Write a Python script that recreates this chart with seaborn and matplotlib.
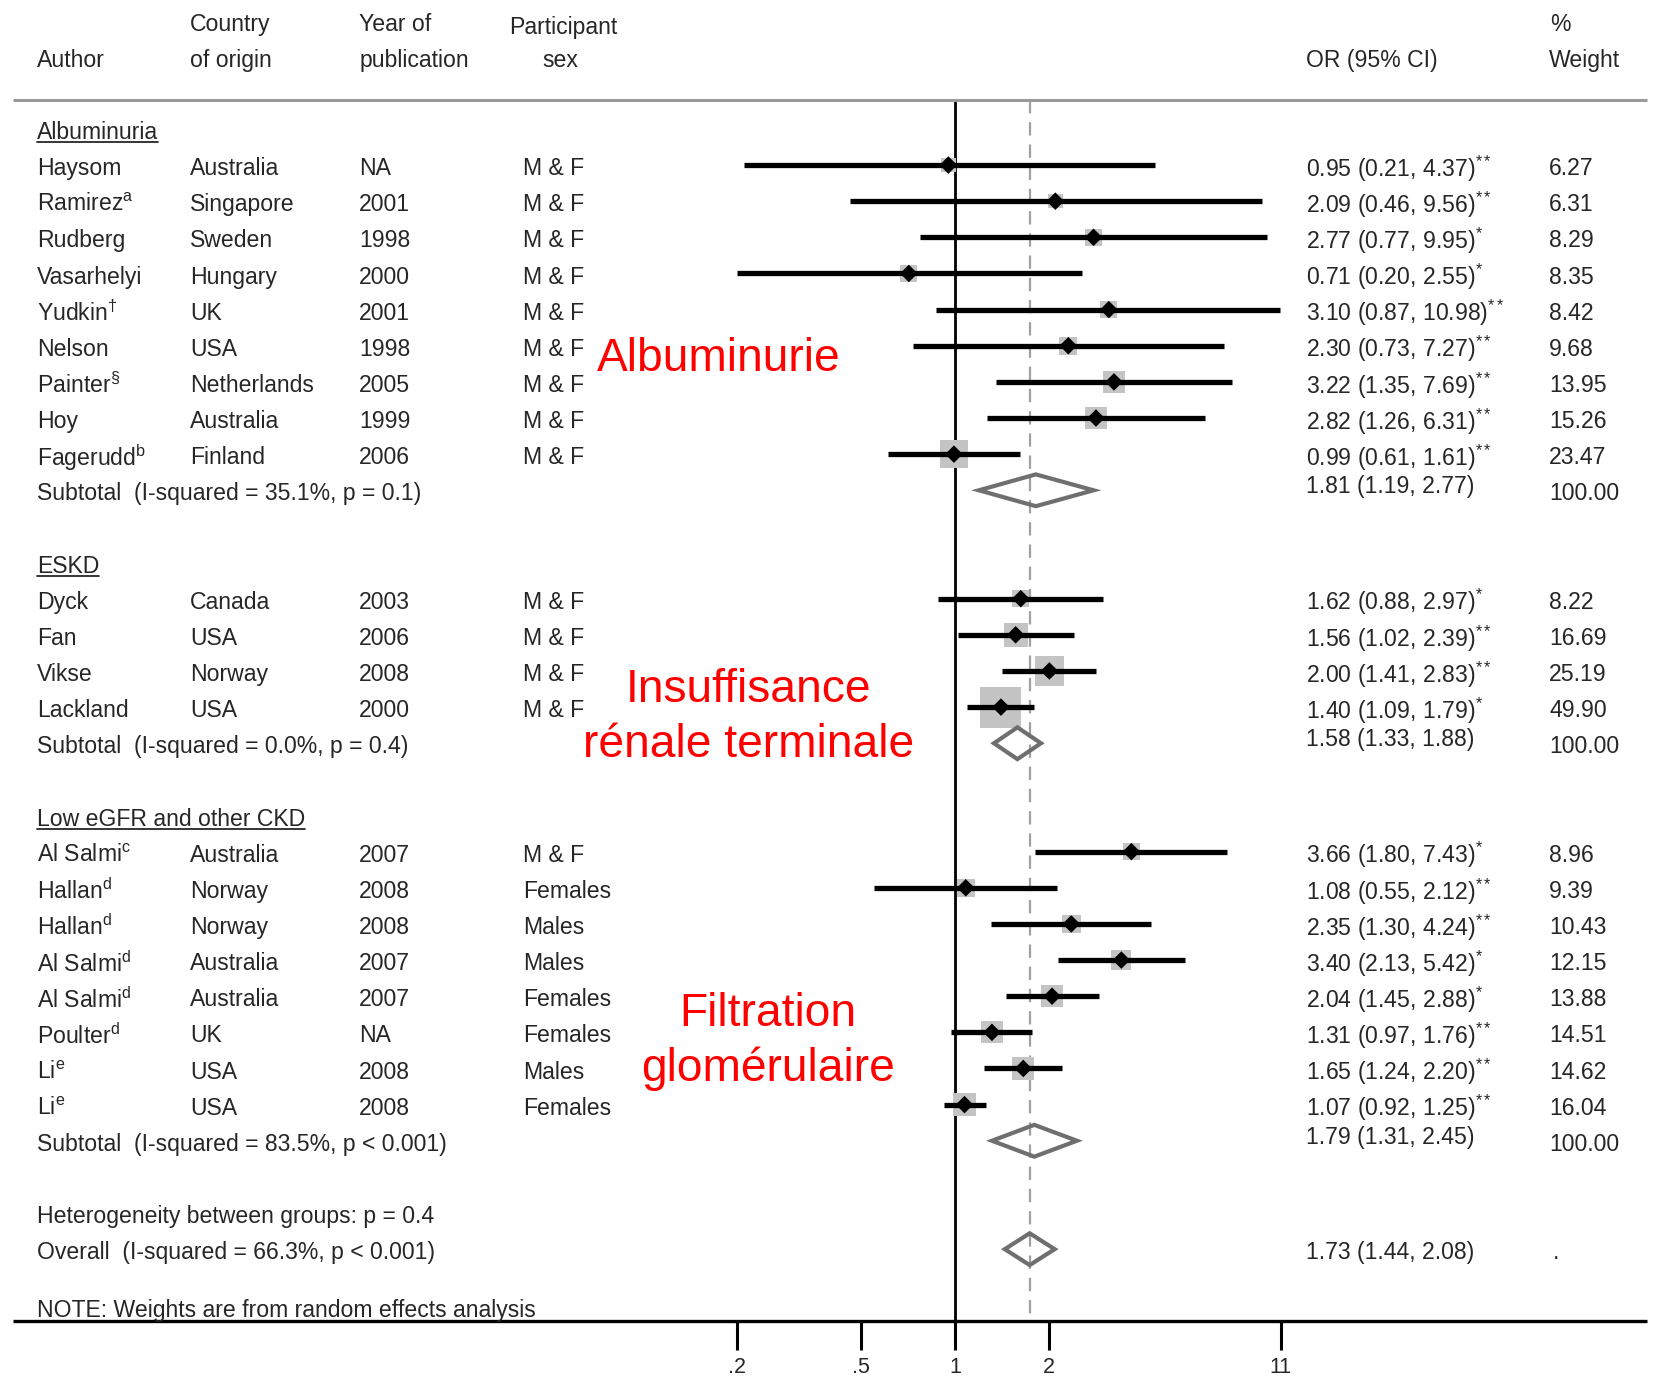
import numpy as np
import pandas as pd
import matplotlib
matplotlib.use("Agg")
import matplotlib.pyplot as plt
import matplotlib.transforms as mtransforms
import seaborn as sns

# ── Data ─────────────────────────────────────────────────────────────
alb_author  = ["Haysom", "Ramirez", "Rudberg", "Vasarhelyi", "Yudkin", "Nelson", "Painter", "Hoy", "Fagerudd"]
alb_sup     = ["", "a", "", "", r"\dagger", "", r"\S", "", "b"]
alb_country = ["Australia", "Singapore", "Sweden", "Hungary", "UK", "USA", "Netherlands", "Australia", "Finland"]
alb_year    = ["NA", "2001", "1998", "2000", "2001", "1998", "2005", "1999", "2006"]
alb_sex     = ["M & F"] * 9
alb_or      = [0.95, 2.09, 2.77, 0.71, 3.10, 2.30, 3.22, 2.82, 0.99]
alb_lo      = [0.21, 0.46, 0.77, 0.20, 0.87, 0.73, 1.35, 1.26, 0.61]
alb_hi      = [4.37, 9.56, 9.95, 2.55, 10.98, 7.27, 7.69, 6.31, 1.61]
alb_star    = ["**", "**", "*", "*", "**", "**", "**", "**", "**"]
alb_weight  = [6.27, 6.31, 8.29, 8.35, 8.42, 9.68, 13.95, 15.26, 23.47]

eskd_author  = ["Dyck", "Fan", "Vikse", "Lackland"]
eskd_sup     = ["", "", "", ""]
eskd_country = ["Canada", "USA", "Norway", "USA"]
eskd_year    = ["2003", "2006", "2008", "2000"]
eskd_sex     = ["M & F"] * 4
eskd_or      = [1.62, 1.56, 2.00, 1.40]
eskd_lo      = [0.88, 1.02, 1.41, 1.09]
eskd_hi      = [2.97, 2.39, 2.83, 1.79]
eskd_star    = ["*", "**", "**", "*"]
eskd_weight  = [8.22, 16.69, 25.19, 49.90]

gfr_author  = ["Al Salmi", "Hallan", "Hallan", "Al Salmi", "Al Salmi", "Poulter", "Li", "Li"]
gfr_sup     = ["c", "d", "d", "d", "d", "d", "e", "e"]
gfr_country = ["Australia", "Norway", "Norway", "Australia", "Australia", "UK", "USA", "USA"]
gfr_year    = ["2007", "2008", "2008", "2007", "2007", "NA", "2008", "2008"]
gfr_sex     = ["M & F", "Females", "Males", "Males", "Females", "Females", "Males", "Females"]
gfr_or      = [3.66, 1.08, 2.35, 3.40, 2.04, 1.31, 1.65, 1.07]
gfr_lo      = [1.80, 0.55, 1.30, 2.13, 1.45, 0.97, 1.24, 0.92]
gfr_hi      = [7.43, 2.12, 4.24, 5.42, 2.88, 1.76, 2.20, 1.25]
gfr_star    = ["*", "**", "**", "*", "*", "**", "**", "**"]
gfr_weight  = [8.96, 9.39, 10.43, 12.15, 13.88, 14.51, 14.62, 16.04]

group_names = ["Albuminuria", "ESKD", "Low eGFR and other CKD"]
sub_or      = [1.81, 1.58, 1.79]
sub_lo      = [1.19, 1.33, 1.31]
sub_hi      = [2.77, 1.88, 2.45]
sub_label   = ["Subtotal  (I-squared = 35.1%, p = 0.1)",
               "Subtotal  (I-squared = 0.0%, p = 0.4)",
               "Subtotal  (I-squared = 83.5%, p < 0.001)"]
red_labels  = ["Albuminurie", "Insuffisance\nrénale terminale", "Filtration\nglomérulaire"]

overall_or, overall_lo, overall_hi = 1.73, 1.44, 2.08
overall_label = "Overall  (I-squared = 66.3%, p < 0.001)"
het_label = "Heterogeneity between groups: p = 0.4"
note_label = "NOTE: Weights are from random effects analysis"

xticks = [0.2, 0.5, 1, 2, 11]
xtick_labels = [".2", ".5", "1", "2", "11"]

# ── Build table with row positions ───────────────────────────────────
blocks = [
    (alb_author, alb_sup, alb_country, alb_year, alb_sex, alb_or, alb_lo, alb_hi, alb_star, alb_weight),
    (eskd_author, eskd_sup, eskd_country, eskd_year, eskd_sex, eskd_or, eskd_lo, eskd_hi, eskd_star, eskd_weight),
    (gfr_author, gfr_sup, gfr_country, gfr_year, gfr_sex, gfr_or, gfr_lo, gfr_hi, gfr_star, gfr_weight),
]
records, header_rows, sub_rows = [], [], []
r = 0
for g, b in zip(group_names, blocks):
    header_rows.append(r)
    for i in range(len(b[0])):
        r += 1
        records.append(dict(group=g, author=b[0][i], sup=b[1][i], country=b[2][i],
                            year=b[3][i], sex=b[4][i], est=b[5][i], lo=b[6][i],
                            hi=b[7][i], star=b[8][i], weight=b[9][i], row=r))
    r += 1
    sub_rows.append(r)
    r += 2
df = pd.DataFrame(records)
het_row = r
overall_row = het_row + 1
note_row = overall_row + 1.6
axis_row = overall_row + 2

# ── Figure ───────────────────────────────────────────────────────────
sns.set_theme(style="white")
plt.rcParams["font.family"] = ["Liberation Sans", "DejaVu Sans"]
plt.rcParams["mathtext.fontset"] = "custom"
plt.rcParams["mathtext.rm"] = "Liberation Sans"
plt.rcParams["mathtext.it"] = "Liberation Sans:italic"

fig = plt.figure(figsize=(16.57, 13.80), dpi=100)
ax = fig.add_axes([0, 0, 1, 1])
ax.set_xscale("log")
ax.set_xlim(np.exp(-7.04), np.exp(5.171))
ax.set_ylim(34.62, -3.567)
ax.axis("off")

tc = "#262626"
fs = 16.6
dy = 0.1  # text sits slightly below the row centre
tr = mtransforms.blended_transform_factory(ax.transAxes, ax.transData)

col_author, col_country, col_year, col_sex, col_or, col_w = 0.0223, 0.1148, 0.2168, 0.3157, 0.7883, 0.935


def txt(x, y, s, **kw):
    kw.setdefault("transform", tr)
    kw.setdefault("fontsize", fs)
    return ax.text(x, y + dy, s, color=tc, va="center", **kw)


# header
txt(col_author, -2, "Author")
txt(col_country, -3, "Country")
txt(col_country, -2, "of origin")
txt(col_year, -3, "Year of")
txt(col_year, -2, "publication")
txt(0.3074, -2.9, "Participant")
txt(0.338, -2, "sex", ha="center")
txt(col_or, -2, "OR (95% CI)")
txt(0.9352, -3, "%")
txt(col_w, -2, "Weight")
ax.plot([0.008, 0.994], [-0.79, -0.79], transform=tr, color="#9a9a9a", lw=2.2, solid_capstyle="butt")

# reference lines
ax.plot([1, 1], [-0.79, axis_row], color="black", lw=2.0, zorder=1)
ax.plot([overall_or, overall_or], [-0.79, axis_row], color="#a0a0a0", lw=1.6,
        dashes=(6, 4), zorder=1)

# weight boxes and points
sns.scatterplot(data=df, x="est", y="row", size="weight", sizes=(17.5 * df.weight.min(), 17.5 * df.weight.max()),
                size_norm=(df.weight.min(), df.weight.max()), marker="s", color="#c4c4c4",
                edgecolor="none", legend=False, ax=ax, zorder=2)
ax.hlines(df["row"], df["lo"], df["hi"], color="black", lw=3.8, zorder=3)
sns.scatterplot(data=df, x="est", y="row", marker="D", s=80, color="black",
                edgecolor="none", legend=False, ax=ax, zorder=4)

# study text
for _, d in df.iterrows():
    if d.sup.startswith("\\"):
        name = d.author + r"$^{%s}$" % d.sup
    elif d.sup:
        name = d.author + r"$^{\mathrm{%s}}$" % d.sup
    else:
        name = d.author
    txt(col_author, d.row, name)
    txt(col_country, d.row, d.country)
    txt(col_year, d.row, d.year)
    txt(col_sex, d.row, d.sex)
    txt(col_or, d.row, f"{d.est:.2f} ({d.lo:.2f}, {d.hi:.2f})" + r"$^{%s}$" % d.star)
    txt(col_w, d.row, f"{d.weight:.2f}")

# group headers (underlined), subtotals
headers = [txt(col_author, hr, g) for hr, g in zip(header_rows, group_names)]


def diamond(est, lo, hi, row, h=0.44):
    ax.fill([lo, est, hi, est, lo], [row, row - h, row, row + h, row],
            facecolor="none", edgecolor="#6f6f6f", lw=3, zorder=3, joinstyle="miter")


for sr, lab, e, lo, hi in zip(sub_rows, sub_label, sub_or, sub_lo, sub_hi):
    txt(col_author, sr, lab)
    txt(col_or, sr - 0.2, f"{e:.2f} ({lo:.2f}, {hi:.2f})")
    txt(col_w, sr, "100.00")
    diamond(e, lo, hi, sr)

txt(col_author, het_row, het_label)
txt(col_author, overall_row, overall_label)
txt(col_or, overall_row, f"{overall_or:.2f} ({overall_lo:.2f}, {overall_hi:.2f})")
txt(0.937, overall_row, ".")
diamond(overall_or, overall_lo, overall_hi, overall_row)
txt(col_author, note_row, note_label)

# bottom axis
ax.plot([0.008, 0.994], [axis_row, axis_row], transform=tr, color="black", lw=2.4, solid_capstyle="butt")
ax.vlines(xticks, axis_row, axis_row + 0.78, color="black", lw=2.2)
for t, lab in zip(xticks, xtick_labels):
    txt(t, axis_row + 1.18, lab, ha="center", transform=ax.transData, fontsize=15.5)

# red annotations
red_pos = [(0.434, 6.37), (0.4515, 16.29), (0.4636, 25.25)]
for (xf, yr), lab in zip(red_pos, red_labels):
    ax.text(xf, yr, lab, transform=tr, fontsize=33.2, color="#ff0000", va="center", ha="center",
            family=["Liberation Sans", "DejaVu Sans"], linespacing=1.3)

# underline group headers
fig.canvas.draw()
inv = ax.transAxes.inverted()
for t in headers:
    bb = t.get_window_extent()
    (x0, y0), (x1, _) = inv.transform([[bb.x0, bb.y0], [bb.x1, bb.y1]])
    ax.plot([x0, x1], [y0 + 0.0015, y0 + 0.0015], transform=ax.transAxes, color=tc, lw=1.3)

fig.savefig("out.png", dpi=100)
